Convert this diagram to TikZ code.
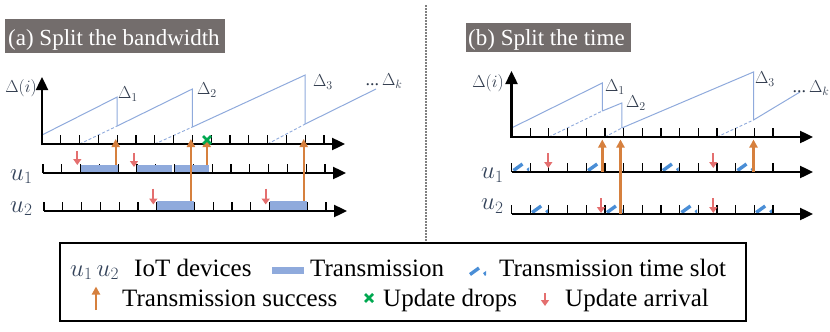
\documentclass[tikz,border=0pt]{standalone}
\usepackage{fontspec}
\setmainfont{Liberation Serif}
\usetikzlibrary{arrows.meta}
\definecolor{orng}{HTML}{D6803E}
\definecolor{redarr}{HTML}{E46F6F}
\definecolor{barblue}{HTML}{8FAADC}
\definecolor{ageblue}{HTML}{8FAADC}
\definecolor{slotblue}{HTML}{4A8ED6}
\definecolor{grn}{HTML}{00A850}
\definecolor{titlegray}{HTML}{736D6C}
\definecolor{labc}{HTML}{2F3A4C}
\definecolor{uc}{HTML}{34435A}
\tikzset{
  axisline/.style={line width=2.4pt, -{Triangle[width=12pt,length=13pt]}},
  tickmark/.style={line width=1.3pt},
  age/.style={ageblue, line width=1pt},
  agedash/.style={ageblue, line width=0.9pt, dash pattern=on 3pt off 2pt},
  succ/.style={orng, line width=2.4pt, -{Triangle[width=8pt,length=8pt]}},
  arrv/.style={redarr, line width=2pt, -{Triangle[width=8pt,length=6pt]}},
  txbar/.style={fill=barblue, draw=none},
  lbl/.style={labc, inner sep=0pt, font=\fontsize{18}{21}\selectfont},
  ulbl/.style={uc, inner sep=0pt, anchor=base west, font=\fontsize{27}{31}\selectfont},
  legtext/.style={anchor=base west, inner sep=0pt, font=\fontsize{25}{30}\selectfont},
  dropx/.style={grn, line width=2.5pt},
  titletext/.style={anchor=base west, inner sep=0pt, white, font=\fontsize{23}{27}\selectfont},
}
\newcommand{\tslot}[3]{%
  \begin{scope}
    \clip (#1+1,#3-1) rectangle (#2-1,#3-10);
    \foreach \o in {-14,0,14}
      \draw[slotblue, line width=3.4pt] ({#1+2+\o},#3-1.5) -- ({#1+11+\o},#3-8);
  \end{scope}}
\newcommand{\gx}[2]{%
  \draw[dropx] (#1-4,#2-4) -- (#1+4,#2+4);
  \draw[dropx] (#1-4,#2+4) -- (#1+4,#2-4);}
\begin{document}
\begin{tikzpicture}[x=1pt,y=-1pt]
\useasboundingbox (0,0) rectangle (830,332);

% titles
\fill[titlegray] (5,19) rectangle (225,53);
\node[titletext] (ta) at (8,45) {(a) Split the bandwidth};
\fill[titlegray] (466,23) rectangle (631,52);
\node[titletext] (tb) at (468,45) {(b) Split the time};

% divider
\draw[gray, line width=1.5pt, dash pattern=on 1.5pt off 1.5pt] (426,5) -- (426,243);

% ================= LEFT PANEL =================
\draw[age] (42,135) -- (117.2,97) -- (117.2,126);
\draw[agedash] (79.6,144) -- (117.2,126);
\draw[age] (117.2,126) -- (192.4,89) -- (192.4,127);
\draw[agedash] (154.8,144) -- (192.4,127);
\draw[age] (192.4,127) -- (305.2,75) -- (305.2,124);
\draw[agedash] (267.6,144) -- (305.2,124);
\draw[age] (305.2,124) -- (376,89);

\foreach \k in {1,...,15} \draw[tickmark] ({42+18.8*\k},144) -- ++(0,-9);
\foreach \k in {0,...,15} \draw[tickmark] ({43+18.8*\k},173) -- ++(0,-9);
\foreach \k in {0,...,15} \draw[tickmark] ({44+18.8*\k},211) -- ++(0,-9);

\fill[barblue] (80.6,165) rectangle (118.2,173);
\fill[barblue] (137,165) rectangle (171.6,173);
\fill[barblue] (174.6,165) rectangle (209.2,173);
\fill[barblue] (156.8,201) rectangle (194.4,209.5);
\fill[barblue] (269.6,201) rectangle (307.2,209.5);

\draw[axisline] (42,144) -- (345,144);
\draw[axisline] (42,145.2) -- (42,77);
\draw[axisline] (43,173) -- (346,173);
\draw[axisline] (44,211) -- (347,211);

\draw[arrv] (77.3,151) -- (77.3,165);
\draw[arrv] (134,153) -- (134,167);
\draw[arrv] (153.3,188.5) -- (153.3,204.5);
\draw[arrv] (265.7,188.5) -- (265.7,204.5);

\draw[succ] (115.7,165) -- (115.7,139);
\draw[succ] (190.9,201) -- (190.9,139);
\draw[succ] (206.7,165) -- (206.7,139);
\draw[succ] (303.7,201) -- (303.7,139);

\gx{207}{140}

\node[lbl] (la) at (21,88) {$\Delta(i)$};
\node[lbl] (l1) at (128,94) {$\Delta_1$};
\node[lbl] (l2) at (207,90) {$\Delta_2$};
\node[lbl] (l3) at (323,82) {$\Delta_3$};
\node[lbl] (lk) at (384,81) {...\,$\Delta_k$};
\node[ulbl] (lu1) at (10,180) {$u_1$};
\node[ulbl] (lu2) at (10,212) {$u_2$};

% ================= RIGHT PANEL =================
\draw[age] (511.5,128) -- (602.3,83) -- (602.3,111);
\draw[agedash] (548.8,137) -- (602.3,111);
\draw[age] (602.3,111) -- (621.8,103) -- (621.8,128);
\draw[agedash] (604.9,137) -- (621.8,128);
\draw[age] (621.8,128) -- (753.5,72) -- (753.5,120);
\draw[agedash] (716.9,137) -- (753.5,120);
\draw[age] (753.5,120) -- (800,92);

\foreach \k in {1,...,14} \draw[tickmark] ({511.5+18.67*\k},137) -- ++(0,-9);
\foreach \k in {0,...,14} \draw[tickmark] ({511.5+18.67*\k},172) -- ++(0,-9);
\foreach \k in {0,...,14} \draw[tickmark] ({511.5+18.67*\k},214) -- ++(0,-9);

\tslot{511.5}{530.2}{172}
\tslot{586.2}{604.9}{172}
\tslot{660.9}{679.5}{172}
\tslot{735.5}{754.2}{172}
\tslot{530.2}{548.8}{214}
\tslot{604.9}{623.5}{214}
\tslot{679.5}{698.2}{214}
\tslot{754.2}{772.9}{214}

\draw[axisline] (511.5,137) -- (813,137);
\draw[axisline] (511.5,138.2) -- (511.5,71);
\draw[axisline] (511.5,172) -- (813,172);
\draw[axisline] (511.5,214) -- (813,214);

\draw[arrv] (548.3,153) -- (548.3,168);
\draw[arrv] (713.3,153) -- (713.3,168);
\draw[arrv] (601,198) -- (601,213);
\draw[arrv] (713.3,198) -- (713.3,213);

\draw[succ] (602.3,172) -- (602.3,139.5);
\draw[succ] (620.5,214) -- (620.5,139.5);
\draw[succ] (753.5,172) -- (753.5,139.5);

\node[lbl] (ra) at (488,83) {$\Delta(i)$};
\node[lbl] (r1) at (615,87) {$\Delta_1$};
\node[lbl] (r2) at (636,103) {$\Delta_2$};
\node[lbl] (r3) at (765,79) {$\Delta_3$};
\node[lbl] (rk) at (811,88) {...\,$\Delta_k$};
\node[ulbl] (ru1) at (481,178.5) {$u_1$};
\node[ulbl] (ru2) at (481,209.5) {$u_2$};

% ================= LEGEND =================
\draw[line width=2pt] (59.5,243) rectangle (746,321);
\node[legtext, uc, font=\fontsize{23}{27}\selectfont] (gu) at (70,276) {$u_1\,u_2$};
\node[legtext] (g1) at (134,276) {IoT devices};
\fill[barblue] (271.7,266.7) rectangle (304.3,274.3);
\node[legtext] (g2) at (310,276) {Transmission};
\tslot{468}{487}{276}
\node[legtext] (g3) at (499,276) {Transmission time slot};
\draw[succ] (96,310) -- (96,286.5);
\node[legtext] (g4) at (122,306) {Transmission success};
\gx{369}{298}
\node[legtext] (g5) at (383,306) {Update drops};
\draw[arrv] (545,293) -- (545,306);
\node[legtext] (g6) at (565,306) {Update arrival};
\end{tikzpicture}
\end{document}
